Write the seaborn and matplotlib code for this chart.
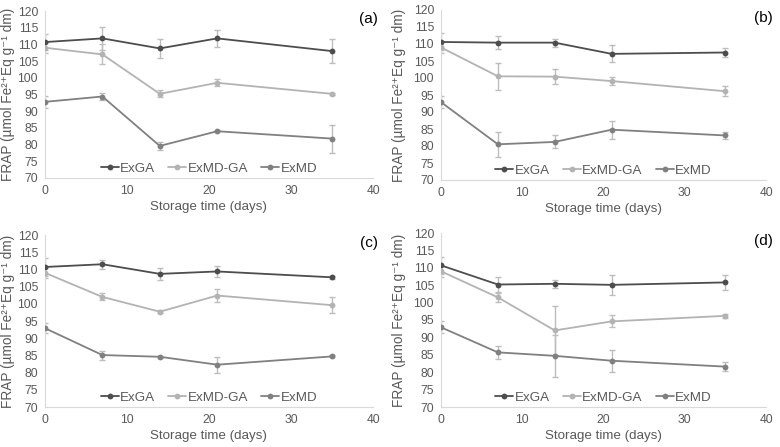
import numpy as np
import pandas as pd
import matplotlib
matplotlib.use("Agg")
import matplotlib.pyplot as plt
import seaborn as sns

days = [0, 7, 14, 21, 35]
series = ["ExGA", "ExMD-GA", "ExMD"]
panel_labels = ["(a)", "(b)", "(c)", "(d)"]

# mean values per panel
a_exga = [110.7, 111.8, 108.8, 111.8, 108.0]
a_exmdga = [109.0, 107.0, 95.2, 98.5, 95.2]
a_exmd = [92.8, 94.4, 79.6, 84.0, 81.8]
b_exga = [110.6, 110.4, 110.4, 107.1, 107.5]
b_exmdga = [109.0, 100.5, 100.4, 99.1, 96.1]
b_exmd = [92.9, 80.5, 81.2, 84.8, 83.1]
c_exga = [110.7, 111.5, 108.7, 109.4, 107.7]
c_exmdga = [109.0, 102.0, 97.7, 102.4, 99.6]
c_exmd = [92.9, 85.1, 84.6, 82.3, 84.7]
d_exga = [110.7, 105.2, 105.4, 105.1, 105.8]
d_exmdga = [109.0, 101.5, 92.0, 94.6, 96.2]
d_exmd = [92.9, 85.7, 84.7, 83.3, 81.6]

# error bar half-widths
a_exga_err = [2.5, 3.4, 2.8, 2.5, 3.5]
a_exmdga_err = [1.5, 3.0, 1.0, 1.0, 0.3]
a_exmd_err = [1.7, 1.0, 1.2, 0.3, 4.2]
b_exga_err = [2.5, 2.0, 1.2, 2.5, 1.2]
b_exmdga_err = [1.5, 4.0, 2.2, 1.2, 1.5]
b_exmd_err = [1.7, 3.6, 1.9, 2.6, 0.9]
c_exga_err = [2.5, 1.3, 1.7, 1.5, 0.4]
c_exmdga_err = [1.5, 1.0, 0.5, 1.9, 2.3]
c_exmd_err = [1.5, 1.3, 0.3, 2.3, 0.3]
d_exga_err = [2.5, 2.2, 1.2, 2.9, 2.2]
d_exmdga_err = [1.5, 1.3, 7.0, 1.7, 0.6]
d_exmd_err = [1.7, 1.8, 6.0, 3.2, 1.3]

panels = [
    ([a_exga, a_exmdga, a_exmd], [a_exga_err, a_exmdga_err, a_exmd_err]),
    ([b_exga, b_exmdga, b_exmd], [b_exga_err, b_exmdga_err, b_exmd_err]),
    ([c_exga, c_exmdga, c_exmd], [c_exga_err, c_exmdga_err, c_exmd_err]),
    ([d_exga, d_exmdga, d_exmd], [d_exga_err, d_exmdga_err, d_exmd_err]),
]

colors = {"ExGA": "#4d4d4d", "ExMD-GA": "#b3b3b3", "ExMD": "#808080"}
text_col = "#595959"

sns.set_theme(style="white")
plt.rcParams["font.family"] = ["Liberation Sans", "DejaVu Sans"]

fig = plt.figure(figsize=(7.8, 4.47), dpi=100)
boxes = [
    (45 / 780, 1 - 178 / 447, 328 / 780, 167 / 447),
    (441 / 780, 1 - 180 / 447, 325 / 780, 170 / 447),
    (45 / 780, 1 - 407 / 447, 328 / 780, 172 / 447),
    (441 / 780, 1 - 407 / 447, 325 / 780, 174 / 447),
]
label_x = [1.015, 1.02, 1.015, 1.02]
ylabel_x = [-0.113, -0.129, -0.113, -0.129]

for box, label, lx, yx, (vals, errs) in zip(boxes, panel_labels, label_x,
                                            ylabel_x, panels):
    ax = fig.add_axes(box)
    df = pd.DataFrame({
        "day": days * 3,
        "value": sum(vals, []),
        "series": [s for s in series for _ in days],
    })
    for s, v, e in zip(series, vals, errs):
        ax.errorbar(days, v, yerr=e, fmt="none", ecolor="#bdbdbd",
                    elinewidth=1, capsize=2.5, capthick=1, zorder=1)
    sns.lineplot(data=df, x="day", y="value", hue="series", hue_order=series,
                 palette=colors, marker="o", markersize=4.2, markeredgewidth=0,
                 linewidth=1.3, ax=ax, zorder=3)
    ax.set_xlim(0, 40)
    ax.set_ylim(70, 120)
    ax.set_xticks(range(0, 41, 10))
    ax.set_yticks(range(70, 121, 5))
    ax.tick_params(colors=text_col, labelsize=8.7, length=0)
    ax.tick_params(axis="x", pad=5)
    ax.tick_params(axis="y", pad=5)
    for side in ["top", "right"]:
        ax.spines[side].set_visible(False)
    for side in ["left", "bottom"]:
        ax.spines[side].set_color("#d9d9d9")
        ax.spines[side].set_linewidth(0.8)
    ax.set_xlabel("Storage time (days)", color=text_col, fontsize=9.6, labelpad=3)
    ax.set_ylabel("FRAP (µmol Fe²⁺Eq g⁻¹ dm)", color=text_col,
                  fontsize=9.8, va="center")
    ax.yaxis.set_label_coords(yx, 0.5)
    ax.legend(loc="center", bbox_to_anchor=(0.5, 0.055), ncol=3,
              frameon=False, fontsize=9.6, handlelength=1.35, handletextpad=0.1,
              columnspacing=1.0, labelcolor=text_col, borderpad=0)
    ax.text(lx, 0.955, label, transform=ax.transAxes, ha="right", va="center",
            fontsize=11, color="black")

fig.savefig("out.png", dpi=100)
